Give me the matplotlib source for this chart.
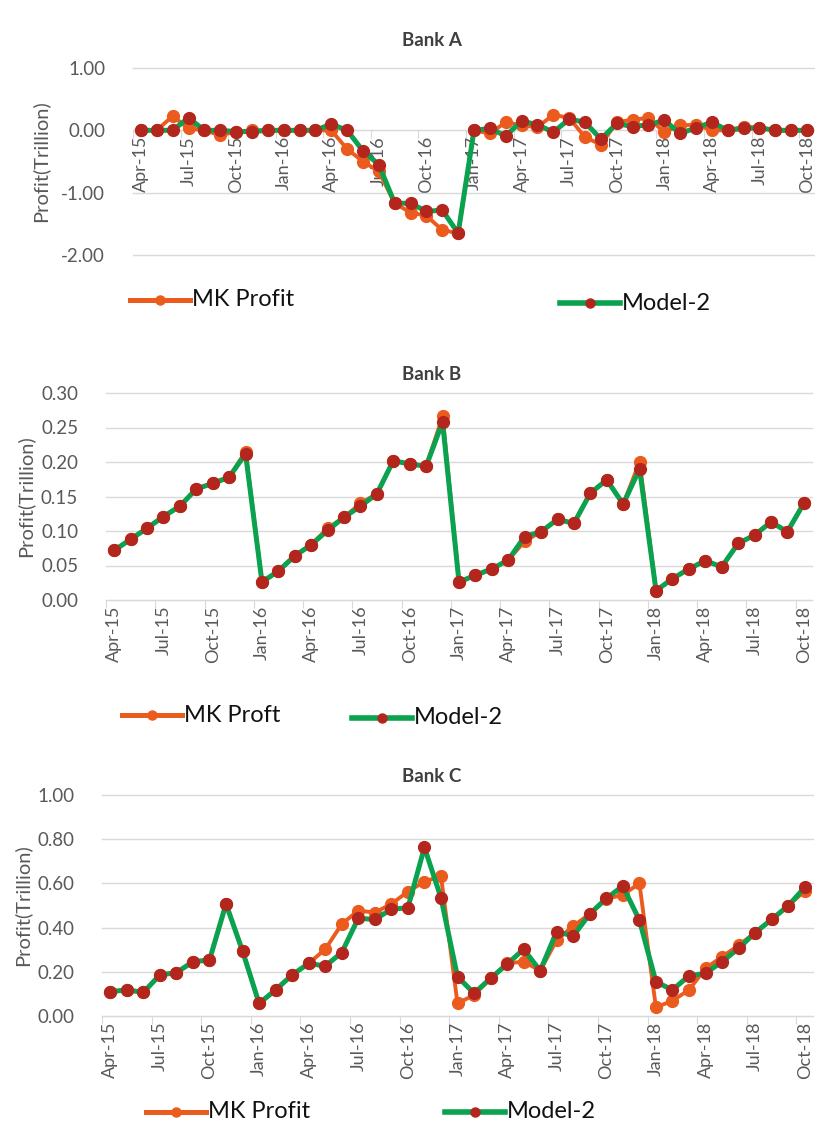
import matplotlib.pyplot as plt
from matplotlib.lines import Line2D
from matplotlib.ticker import FormatStrFormatter

plt.rcParams['font.family'] = ['Lato', 'DejaVu Sans']

# tick labels (every third month, Apr-15 .. Oct-18)
tick_labels = ['Apr-15', 'Jul-15', 'Oct-15', 'Jan-16', 'Apr-16', 'Jul-16', 'Oct-16',
               'Jan-17', 'Apr-17', 'Jul-17', 'Oct-17', 'Jan-18', 'Apr-18', 'Jul-18', 'Oct-18']

# Bank A
bank_a_mk = [0, 0, 0.23, 0.03, 0, -0.08, -0.02, 0, 0, 0, 0, 0, 0, -0.3, -0.5, -0.66,
             -1.17, -1.32, -1.37, -1.6, -1.65,
             0, -0.05, 0.13, 0.08, 0.05, 0.25, 0.2, -0.11, -0.23, 0.13, 0.17, 0.2, -0.03,
             0.08, 0.09, 0, 0, 0.06, 0.04, 0, 0, 0]
bank_a_model = [0, 0, 0, 0.2, 0, 0, -0.02, -0.02, 0, 0, 0, 0, 0.1, 0, -0.33, -0.55,
                -1.17, -1.17, -1.3, -1.28, -1.65,
                0, 0.03, -0.09, 0.15, 0.09, -0.03, 0.18, 0.13, -0.14, 0.11, 0.06, 0.09, 0.16,
                -0.05, 0.04, 0.13, 0, 0.03, 0.04, 0, 0, 0]

# Bank B
bank_b_mk = [0.072, 0.088, 0.104, 0.121, 0.136, 0.161, 0.169, 0.178, 0.215, 0.026,
             0.042, 0.064, 0.080, 0.104, 0.120, 0.140, 0.154, 0.202, 0.197, 0.194,
             0.266, 0.026, 0.036, 0.045, 0.058, 0.085, 0.099, 0.117, 0.111, 0.155,
             0.174, 0.139, 0.200, 0.0135, 0.031, 0.045, 0.057, 0.048, 0.082, 0.094,
             0.113, 0.099, 0.140]
bank_b_model = [0.072, 0.088, 0.104, 0.121, 0.136, 0.161, 0.169, 0.178, 0.212, 0.026,
                0.042, 0.064, 0.080, 0.101, 0.120, 0.136, 0.154, 0.202, 0.197, 0.194,
                0.258, 0.026, 0.036, 0.045, 0.058, 0.092, 0.099, 0.117, 0.111, 0.155,
                0.174, 0.139, 0.190, 0.0135, 0.031, 0.045, 0.057, 0.048, 0.082, 0.094,
                0.113, 0.099, 0.140]

# Bank C
bank_c_mk = [0.110, 0.118, 0.107, 0.186, 0.196, 0.246, 0.253, 0.507, 0.294, 0.057,
             0.118, 0.186, 0.238, 0.302, 0.416, 0.477, 0.468, 0.507, 0.563, 0.608,
             0.633, 0.057, 0.095, 0.170, 0.238, 0.246, 0.205, 0.344, 0.407, 0.462,
             0.530, 0.548, 0.600, 0.039, 0.069, 0.118, 0.216, 0.268, 0.320, 0.377,
             0.437, 0.499, 0.566]
bank_c_model = [0.110, 0.118, 0.107, 0.186, 0.196, 0.246, 0.253, 0.507, 0.294, 0.057,
                0.118, 0.186, 0.238, 0.226, 0.287, 0.442, 0.437, 0.483, 0.490, 0.763,
                0.535, 0.178, 0.103, 0.170, 0.235, 0.302, 0.205, 0.382, 0.362, 0.462,
                0.532, 0.588, 0.434, 0.155, 0.118, 0.182, 0.193, 0.246, 0.306, 0.377,
                0.437, 0.499, 0.582]

orange = '#EC5B1E'
green = '#0AA24E'
dark_red = '#B3261E'
grid_color = '#D9D9D9'
text_gray = '#595959'

W, H = 815, 1129
fig = plt.figure(figsize=(W / 100, H / 100), dpi=100)


def panel(left, right, top, bottom, title, title_y, mk, model, ylim, yticks, fmt,
          ylabel_x, zero_axis=False, legend=None):
    ax = fig.add_axes([left / W, 1 - bottom / H, (right - left) / W, (bottom - top) / H])
    x = list(range(len(mk)))
    ax.plot(x, mk, color=orange, lw=2.8, marker='o', ms=8.5, mfc=orange, mec=orange,
            zorder=3, clip_on=False)
    ax.plot(x, model, color=green, lw=3.6, marker='o', ms=8.5, mfc=dark_red, mec=dark_red,
            zorder=4, clip_on=False)
    ax.set_xlim(-0.5, 42.5)
    ax.set_ylim(*ylim)
    ax.set_yticks(yticks)
    ax.yaxis.set_major_formatter(FormatStrFormatter(fmt))
    ax.grid(axis='y', color=grid_color, lw=1)
    for gl in ax.get_ygridlines():
        gl.set_clip_on(False)
    ax.set_axisbelow(True)
    for s in ['top', 'right', 'left']:
        ax.spines[s].set_visible(False)
    ax.spines['bottom'].set_color(grid_color)
    if zero_axis:
        ax.spines['bottom'].set_position(('data', 0))
    ax.tick_params(axis='y', length=0, labelsize=13.5, labelcolor=text_gray, pad=20)
    # tick marks between categories, labels centred on the months
    ax.set_xticks([i * 3 - 0.5 for i in range(15)])
    ax.set_xticklabels([])
    ax.tick_params(axis='x', which='major', length=6, color=grid_color)
    ax.set_xticks([i * 3 for i in range(15)], minor=True)
    ax.set_xticklabels(tick_labels, minor=True, rotation=90)
    ax.tick_params(axis='x', which='minor', length=0, labelsize=13,
                   labelcolor=text_gray, pad=4)
    fig.text(432 / W, 1 - title_y / H, title, ha='center', va='center', fontsize=13.5,
             fontweight='bold', color='#404040')
    fig.text(ylabel_x / W, 1 - (top + bottom) / 2 / H, 'Profit(Trillion)', rotation=90,
             ha='center', va='center', fontsize=14.5, color=text_gray)
    # legend entries
    (lx1, ly1, name1), (lx2, ly2, name2) = legend
    for lx, ly, name, lc, mc, lw in [(lx1, ly1, name1, orange, orange, 3.6),
                                     (lx2, ly2, name2, green, dark_red, 4.0)]:
        fig.add_artist(Line2D([lx / W, (lx + 60) / W], [1 - ly / H, 1 - ly / H],
                              color=lc, lw=lw))
        fig.add_artist(Line2D([(lx + 30) / W], [1 - ly / H], marker='o', ms=6.5,
                              color=mc, mec=mc))
        fig.text((lx + 62) / W, 1 - ly / H, name, ha='left', va='center', fontsize=17,
                 color='#111111')
    return ax


panel(133, 815, 68, 255, 'Bank A', 40, bank_a_mk, bank_a_model, (-2, 1),
      [-2, -1, 0, 1], '%.2f', 40, zero_axis=True,
      legend=[(130, 300, 'MK Profit'), (560, 303, 'Model-2')])
panel(106, 812, 393, 600, 'Bank B', 375, bank_b_mk, bank_b_model, (0, 0.30),
      [0, 0.05, 0.10, 0.15, 0.20, 0.25, 0.30], '%.2f', 25,
      legend=[(122, 715, 'MK Proft'), (352, 718, 'Model-2')])
panel(102, 813, 795, 1016, 'Bank C', 777, bank_c_mk, bank_c_model, (0, 1.0),
      [0, 0.2, 0.4, 0.6, 0.8, 1.0], '%.2f', 22,
      legend=[(146, 1112, 'MK Profit'), (445, 1112, 'Model-2')])

fig.savefig('out.png', dpi=100)
